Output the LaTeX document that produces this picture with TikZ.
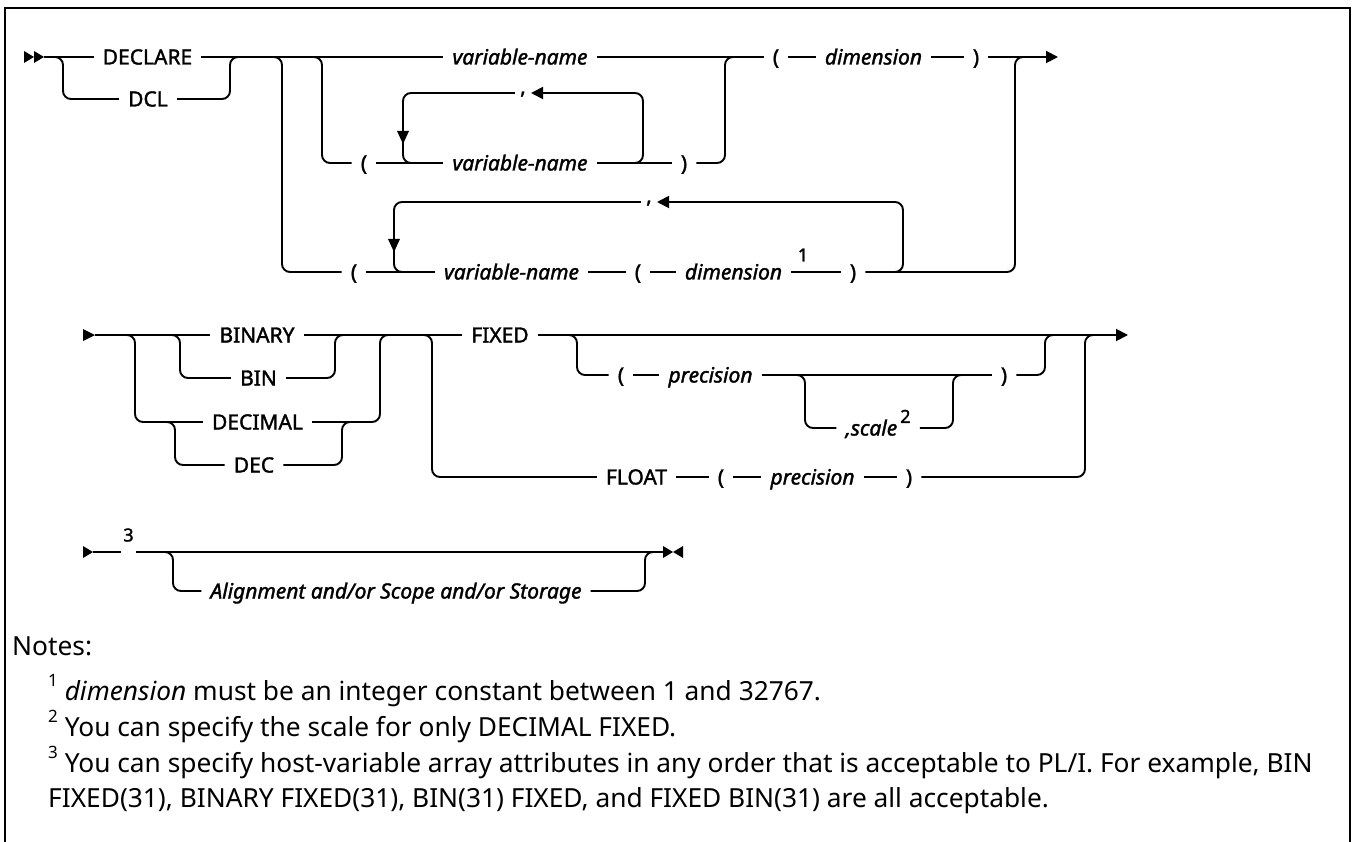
\documentclass[tikz,border=0pt]{standalone}
\usepackage{fontspec}
\usetikzlibrary{arrows.meta}
\newfontfamily\dfont[FakeBold=1.6]{Noto Sans}
\newfontfamily\nfont{Noto Sans}
\tikzset{
  rail/.style={line width=1.9pt, rounded corners=8pt},
  railarrow/.style={rail, -{Triangle[length=12pt,width=12pt]}},
  kw/.style={font=\dfont\fontsize{21}{21}\selectfont, inner xsep=9pt, inner ysep=0pt, text height=15pt, text depth=0pt, anchor=center},
  var/.style={kw, font=\dfont\itshape\fontsize{21}{21}\selectfont},
  commanode/.style={font=\dfont\fontsize{21}{21}\selectfont, inner xsep=5pt, inner ysep=0pt, text height=0pt, text depth=0pt},
  supn/.style={font=\dfont\fontsize{18}{18}\selectfont, inner xsep=2pt, inner ysep=0pt},
  note/.style={font=\nfont\fontsize{26.3}{26.3}\selectfont, anchor=base west, inner sep=0pt},
}
\newcommand{\nsup}[1]{\raisebox{0.5em}{\fontsize{17}{17}\selectfont #1}}
\begin{document}
\begin{tikzpicture}[x=1pt,y=-1pt]
\useasboundingbox (0,0) rectangle (1354,842);
% frame
\draw[line width=2.2pt] (5,845) -- (5,8) -- (1350,8) -- (1350,845);

% ---------- block 1 ----------
\coordinate (s1) at (44,57);
\fill (24,51) -- (34,57) -- (24,63) -- cycle;
\fill (34,51) -- (44,57) -- (34,63) -- cycle;
\node[kw] (declare) at (147.5,57) {DECLARE};
\node[kw] (dcl) at (148,99) {DCL};
\node[var] (var1) at (520,57) {variable-name};
\node[kw] (lp1) at (776,57) {(};
\node[var] (dim1) at (873.5,57) {dimension};
\node[kw] (rp1) at (976,57) {)};
\coordinate (end1) at (1058,57);

\node[commanode] (comma1) at (523,94) {,};
\node[kw] (lp3) at (364,163) {(};
\node[var] (var3) at (520,163) {variable-name};
\node[kw] (rp3) at (684,163) {)};

\node[commanode] (comma2) at (649,203) {,};
\node[kw] (lp5) at (354,272) {(};
\node[var] (var5) at (511.5,272) {variable-name};
\node[kw] (lp5b) at (638,272) {(};
\node[var] (dim5) at (733.5,272) {dimension};
\node[supn] (sup1) at (803,255) {1};
\node[kw] (rp5) at (853,272) {)};

\draw[rail] (s1) -- (declare.west);
\draw[rail] (s1) -| (63,99) -- (dcl.west);
\draw[rail] (dcl.east) -| (230,57) -- (245,57);
\draw[rail] (declare.east) -- (var1.west);
\draw[rail] (260,57) -| (282,272) -- (lp5.west);
\draw[rail] (300,57) -| (322,163) -- (lp3.west);
\draw[rail] (var1.east) -- (lp1.west);
\draw[rail] (lp1.east) -- (dim1.west);
\draw[rail] (dim1.east) -- (rp1.west);
\draw[railarrow] (rp1.east) -- (end1);
% row 3
\draw[rail] (lp3.east) -- (var3.west);
\draw[rail] (var3.east) -- (rp3.west);
\draw[rail] (rp3.east) -| (725,57) -- (745,57);
\draw[railarrow] (615,163) -| (643,93) -- (comma1.east |- 93,93);
\draw[rail] (comma1.west |- 93,93) -| (403,163) -- (430,163);
\fill (397,131) -- (409,131) -- (403,144) -- cycle;
% row 5
\draw[rail] (lp5.east) -- (var5.west);
\draw[rail] (var5.east) -- (lp5b.west);
\draw[rail] (lp5b.east) -- (dim5.west);
\draw[rail] (dim5.east) -- (rp5.west);
\draw[rail] (rp5.east) -| (1015,57) -- (1035,57);
\draw[railarrow] (875,272) -| (903,202) -- (comma2.east |- 202,202);
\draw[rail] (comma2.west |- 202,202) -| (394,272) -- (420,272);
\fill (388,239) -- (400,239) -- (394,252) -- cycle;

% ---------- block 2 ----------
\coordinate (s2) at (95,335);
\fill (83,329) -- (95,335) -- (83,341) -- cycle;
\node[kw] (binary) at (257,335) {BINARY};
\node[kw] (bin) at (258.5,378) {BIN};
\node[kw] (decimal) at (257.5,422) {DECIMAL};
\node[kw] (dec) at (254,465) {DEC};
\node[kw] (fixed) at (500,335) {FIXED};
\node[kw] (lpp) at (621,375) {(};
\node[var] (prec1) at (710.5,375) {precision};
\node[var] (scale) at (878,428) {,scale\raisebox{0.6em}{\fontsize{18}{18}\selectfont\upshape\,2}};
\node[kw] (rpp) at (1004,375) {)};
\node[kw] (float) at (636.5,477) {FLOAT};
\node[kw] (lpf) at (721,477) {(};
\node[var] (prec2) at (812.5,477) {precision};
\node[kw] (rpf) at (909,477) {)};
\coordinate (end2) at (1128,335);

\draw[rail] (s2) -- (binary.west);
\draw[rail] (s2) -| (135,422) -- (decimal.west);
\draw[rail] (160,335) -| (180,378) -- (bin.west);
\draw[rail] (bin.east) -| (335,335) -- (350,335);
\draw[rail] (150,422) -| (175,465) -- (dec.west);
\draw[rail] (dec.east) -| (342,422) -- (355,422);
\draw[rail] (decimal.east) -| (380,335) -- (395,335);
\draw[rail] (binary.east) -- (fixed.west);
\draw[rail] (410,335) -| (432,477) -- (float.west);
\draw[railarrow] (fixed.east) -- (end2);
\draw[rail] (555,335) -| (577,375) -- (lpp.west);
\draw[rail] (lpp.east) -- (prec1.west);
\draw[rail] (prec1.east) -- (rpp.west);
\draw[rail] (785,375) -| (805,428) -- (scale.west);
\draw[rail] (scale.east) -| (953,375) -- (970,375);
\draw[rail] (rpp.east) -| (1045,335) -- (1062,335);
\draw[rail] (float.east) -- (lpf.west);
\draw[rail] (lpf.east) -- (prec2.west);
\draw[rail] (prec2.east) -- (rpf.west);
\draw[rail] (rpf.east) -| (1085,335) -- (1100,335);

% ---------- block 3 ----------
\coordinate (s3) at (93,552);
\coordinate (end3) at (663,552);
\fill (83,546) -- (93,552) -- (83,558) -- cycle;
\node[supn] (sup3) at (128.5,535) {3};
\node[var] (align) at (396,591) {Alignment and/or Scope and/or Storage};
\draw[rail] (s3) -- (s3 -| sup3.west);
\draw[rail] (s3 -| sup3.east) -- (end3);
\draw[rail] (150,552) -| (173,591) -- (align.west);
\draw[rail] (align.east) -| (645,552) -- (658,552);
\fill (663,546) -- (673,552) -- (663,558) -- cycle;
\fill (683,546) -- (673,552) -- (683,558) -- cycle;

% ---------- notes ----------
\node[note] (notes) at (12,655) {Notes:};
\node[note] (n1) at (48,700) {\nsup{1} \textit{dimension} must be an integer constant between 1 and 32767.};
\node[note] (n2) at (48,736) {\nsup{2} You can specify the scale for only DECIMAL FIXED.};
\node[note] (n3) at (48,772) {\nsup{3} You can specify host-variable array attributes in any order that is acceptable to PL/I. For example, BIN};
\node[note] (n4) at (48,807) {FIXED(31), BINARY FIXED(31), BIN(31) FIXED, and FIXED BIN(31) are all acceptable.};
\end{tikzpicture}
\end{document}
